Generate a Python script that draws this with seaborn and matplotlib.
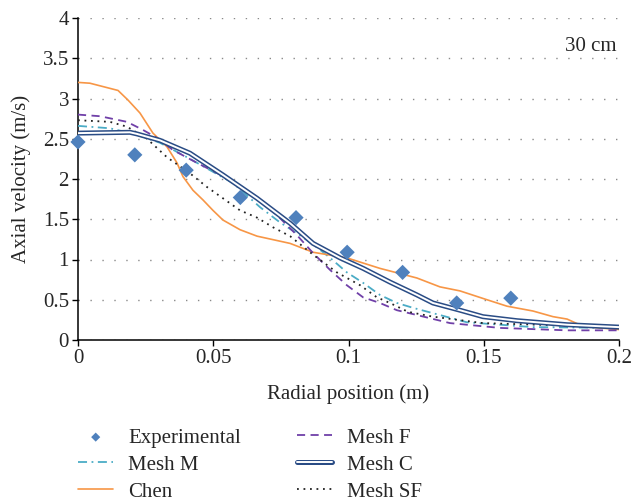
import matplotlib
matplotlib.use("Agg")
import matplotlib.pyplot as plt
import matplotlib.patheffects as pe
import seaborn as sns

# Radial profiles of axial velocity at 30 cm
exp_x = [0.0, 0.021, 0.040, 0.060, 0.0806, 0.0995, 0.120, 0.140, 0.160]
exp_y = [2.46, 2.30, 2.11, 1.77, 1.52, 1.09, 0.84, 0.46, 0.52]

chen_x = [0.0, 0.0044, 0.0148, 0.0185, 0.0229, 0.0277, 0.0329, 0.0366, 0.0388, 0.0425,
          0.0462, 0.0499, 0.0536, 0.0599, 0.0662, 0.0784, 0.0869, 0.0994, 0.1116, 0.1253,
          0.1338, 0.1412, 0.1512, 0.1586, 0.1682, 0.1756, 0.1808, 0.1867, 0.1930, 0.2]
chen_y = [3.20, 3.19, 3.10, 2.98, 2.82, 2.57, 2.40, 2.20, 2.03, 1.86,
          1.74, 1.61, 1.49, 1.37, 1.29, 1.20, 1.09, 1.02, 0.89, 0.77,
          0.66, 0.61, 0.50, 0.42, 0.36, 0.29, 0.26, 0.17, 0.15, 0.13]

meshc_x = [0.0, 0.0192, 0.0218, 0.0303, 0.0414, 0.0536, 0.0662, 0.0784, 0.0869, 0.0969,
           0.1054, 0.1153, 0.1253, 0.1312, 0.1412, 0.1497, 0.1623, 0.1808, 0.2]
meshc_y = [2.57, 2.58, 2.56, 2.48, 2.32, 2.05, 1.76, 1.45, 1.20, 1.02,
           0.89, 0.72, 0.56, 0.46, 0.37, 0.29, 0.24, 0.19, 0.16]

meshf_x = [0.0, 0.0081, 0.0181, 0.0240, 0.0292, 0.0351, 0.0440, 0.0551, 0.0625, 0.0736,
           0.0810, 0.0869, 0.0932, 0.0994, 0.1054, 0.1116, 0.1179, 0.1253, 0.1375, 0.1560,
           0.1808, 0.2]
meshf_y = [2.80, 2.78, 2.71, 2.61, 2.51, 2.36, 2.20, 2.01, 1.86, 1.55,
           1.30, 1.08, 0.87, 0.68, 0.53, 0.46, 0.37, 0.31, 0.21, 0.15,
           0.12, 0.12]

meshm_x = [0.0, 0.0118, 0.0218, 0.0303, 0.0403, 0.0488, 0.0573, 0.0673, 0.0747, 0.0821,
           0.0884, 0.0932, 0.0994, 0.1054, 0.1116, 0.1179, 0.1238, 0.1438, 0.1682, 0.2]
meshm_y = [2.66, 2.63, 2.55, 2.45, 2.27, 2.11, 1.95, 1.65, 1.46, 1.30,
           1.15, 1.02, 0.84, 0.71, 0.56, 0.46, 0.40, 0.22, 0.16, 0.15]

meshsf_x = [0.0, 0.0118, 0.0181, 0.0255, 0.0329, 0.0414, 0.0477, 0.0536, 0.0599, 0.0662,
            0.0721, 0.0784, 0.0869, 0.0957, 0.1043, 0.1105, 0.1153, 0.1220, 0.1312, 0.1497, 0.2]
meshsf_y = [2.73, 2.71, 2.65, 2.50, 2.27, 2.07, 1.90, 1.76, 1.61, 1.52,
            1.40, 1.29, 1.06, 0.84, 0.68, 0.53, 0.46, 0.35, 0.29, 0.21, 0.16]

x_ticks = [0, 0.05, 0.1, 0.15, 0.2]
x_ticklabels = ["0", "0.05", "0.1", "0.15", "0.2"]
y_ticks = [0, 0.5, 1, 1.5, 2, 2.5, 3, 3.5, 4]
y_ticklabels = ["0", "0.5", "1", "1.5", "2", "2.5", "3", "3.5", "4"]

sns.set_style("white")
plt.rcParams["font.family"] = ["Liberation Serif", "DejaVu Serif"]
FS = 15
plt.rcParams["font.size"] = FS

C_EXP = "#4F81BD"
C_CHEN = "#F79646"
C_F = "#7040A8"
C_M = "#4BACC6"
C_C = "#2A4C85"
C_SF = "#222222"

fig = plt.figure(figsize=(6.4, 5.04), dpi=100)
ax = fig.add_axes([78 / 640, 1 - 340 / 504, 541 / 640, 322 / 504])

sns.scatterplot(x=exp_x, y=exp_y, ax=ax, marker="D", s=60, color=C_EXP,
                edgecolor="none", label="Experimental", zorder=6, clip_on=False)
sns.lineplot(x=meshm_x, y=meshm_y, ax=ax, color=C_M, lw=1.3,
             linestyle=(0, (5, 2.5, 1, 2.5)), label="Mesh M", sort=False, zorder=3)
sns.lineplot(x=chen_x, y=chen_y, ax=ax, color=C_CHEN, lw=1.2,
             label="Chen", sort=False, zorder=3)
sns.lineplot(x=meshf_x, y=meshf_y, ax=ax, color=C_F, lw=1.3,
             linestyle=(0, (4.5, 3)), label="Mesh F", sort=False, zorder=3)
# double-stroke line: white core over a navy outline
sns.lineplot(x=meshc_x, y=meshc_y, ax=ax, color="white", lw=1.4, label="Mesh C",
             sort=False, zorder=4, solid_capstyle="round",
             path_effects=[pe.Stroke(linewidth=3.6, foreground=C_C, capstyle="round"),
                           pe.Normal()])
sns.lineplot(x=meshsf_x, y=meshsf_y, ax=ax, color=C_SF, lw=1.3,
             linestyle=(0, (1, 2.6)), label="Mesh SF", sort=False, zorder=3)

ax.set_xlim(0, 0.2)
ax.set_ylim(0, 4)
ax.set_xticks(x_ticks)
ax.set_xticklabels(x_ticklabels)
ax.set_yticks(y_ticks)
ax.set_yticklabels(y_ticklabels)

ax.yaxis.grid(True, color="#8a8a8a", lw=1.0, linestyle=(0, (1, 7.6)))
ax.xaxis.grid(False)
ax.set_axisbelow(True)

for side in ("top", "right"):
    ax.spines[side].set_visible(False)
for side in ("left", "bottom"):
    ax.spines[side].set_color("black")
    ax.spines[side].set_linewidth(1.1)

ax.tick_params(axis="both", which="major", direction="out", length=4.5, width=1,
               color="black", labelsize=FS, pad=2, left=True, bottom=True)

ax.set_xlabel("Radial position (m)", fontsize=FS)
ax.set_ylabel("Axial velocity (m/s)", fontsize=FS)
ax.xaxis.set_label_coords(0.5, -0.137)
ax.yaxis.set_label_coords(-0.087, 0.5)

ax.text(0.996, 0.91, "30 cm", transform=ax.transAxes, ha="right", va="center",
        fontsize=FS)

handles, labels = ax.get_legend_handles_labels()
ax.get_legend().remove()
fig.legend(handles, labels, loc="upper left", bbox_to_anchor=(78 / 640, 1 - 428 / 504),
           ncol=2, frameon=False, fontsize=FS, handlelength=1.7, handletextpad=0.7,
           columnspacing=2.7, labelspacing=0.36, borderpad=0, borderaxespad=0,
           markerscale=0.6)

fig.savefig("out.png", dpi=100)
